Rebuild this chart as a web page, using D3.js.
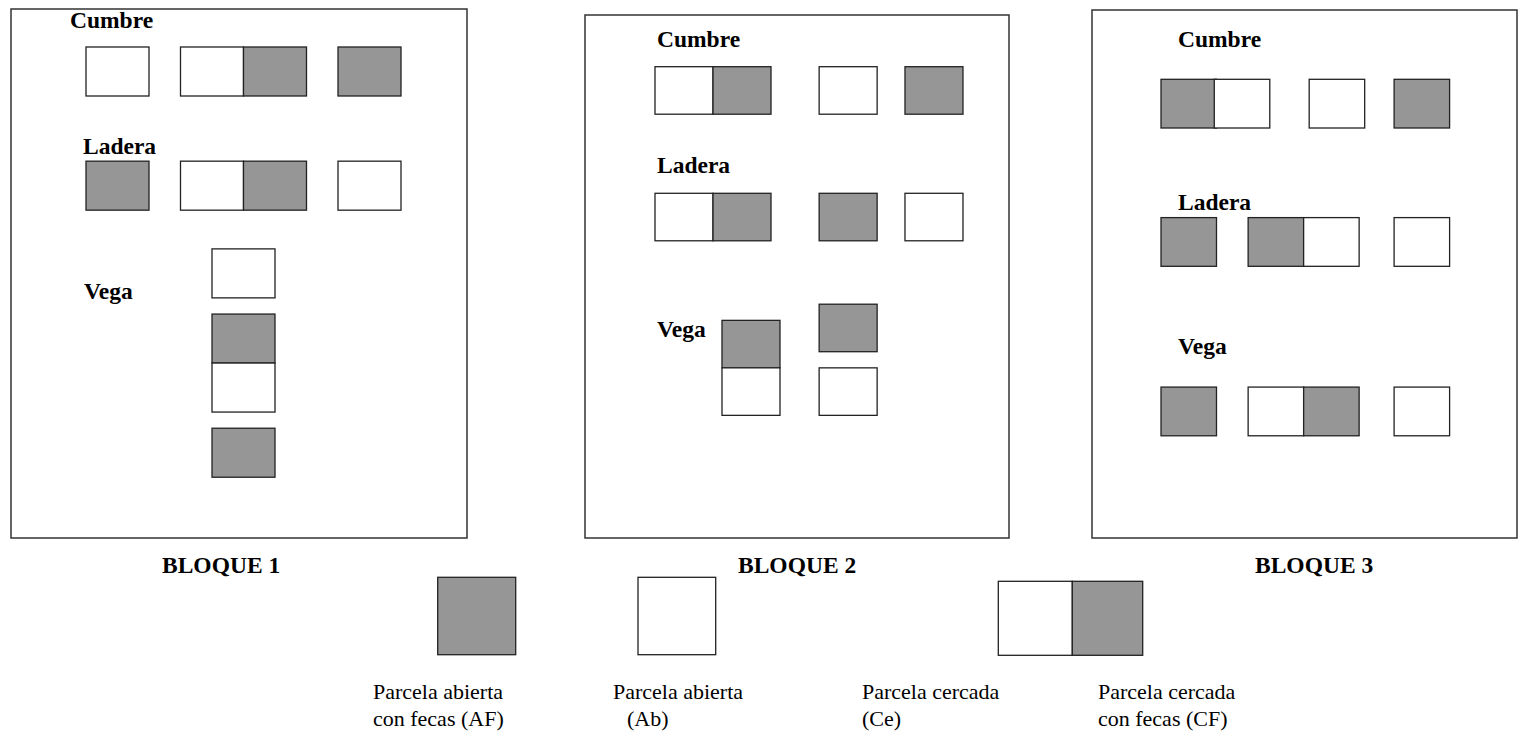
<!DOCTYPE html>
<meta charset="utf-8">
<style>
body { margin: 0; background: #fff; }
text { font-family: "Liberation Serif", "Times New Roman", serif; fill: #000; }
.zone, .block { font-size: 23.5px; font-weight: bold; }
.leg { font-size: 22px; }
.frame { fill: none; stroke: #333; stroke-width: 1.5px; }
.cell { stroke: #222; stroke-width: 1.3px; }
</style>
<svg width="1519" height="741"></svg>
<script src="https://cdn.jsdelivr.net/npm/d3@7"></script>
<script>

var blocks = ["BLOQUE 1", "BLOQUE 2", "BLOQUE 3"];
var zones = ["Cumbre", "Ladera", "Vega"];

// treatments: AF open with feces, Ab open, Ce fenced, CF fenced with feces
var treatments = ["AF", "Ab", "Ce", "CF"];
var legendLines = [
  ["Parcela abierta", "con fecas (AF)"],
  ["Parcela abierta", "(Ab)"],
  ["Parcela cercada", "(Ce)"],
  ["Parcela cercada", "con fecas (CF)"]
];

// plots per block: [zone, column, row, treatment] in grid cells
var plots1 = [
  ["Cumbre", 0, 0, "Ab"], ["Cumbre", 1.5, 0, "Ce"], ["Cumbre", 2.5, 0, "CF"], ["Cumbre", 4, 0, "AF"],
  ["Ladera", 0, 2.33, "AF"], ["Ladera", 1.5, 2.33, "Ce"], ["Ladera", 2.5, 2.33, "CF"], ["Ladera", 4, 2.33, "Ab"],
  ["Vega", 2, 4.12, "Ab"], ["Vega", 2, 5.45, "AF"], ["Vega", 2, 6.45, "Ce"], ["Vega", 2, 7.78, "AF"]
];
var plots2 = [
  ["Cumbre", 0, 0, "Ce"], ["Cumbre", 1, 0, "CF"], ["Cumbre", 2.83, 0, "Ab"], ["Cumbre", 4.31, 0, "AF"],
  ["Ladera", 0, 2.665, "Ce"], ["Ladera", 1, 2.665, "CF"], ["Ladera", 2.83, 2.665, "AF"], ["Ladera", 4.31, 2.665, "Ab"],
  ["Vega", 1.155, 5.34, "AF"], ["Vega", 1.155, 6.34, "Ab"], ["Vega", 2.83, 5.0, "AF"], ["Vega", 2.83, 6.34, "Ab"]
];
var plots3 = [
  ["Cumbre", 0, 0, "CF"], ["Cumbre", 0.96, 0, "Ce"], ["Cumbre", 2.67, 0, "Ab"], ["Cumbre", 4.2, 0, "AF"],
  ["Ladera", 0, 2.84, "AF"], ["Ladera", 1.57, 2.84, "CF"], ["Ladera", 2.57, 2.84, "Ce"], ["Ladera", 4.2, 2.84, "Ab"],
  ["Vega", 0, 6.32, "AF"], ["Vega", 1.57, 6.32, "Ce"], ["Vega", 2.57, 6.32, "CF"], ["Vega", 4.2, 6.32, "Ab"]
];
var plots = [plots1, plots2, plots3];

// layout of each block: frame, grid origin and cell size, labels
var layout = [
  {frame: [11, 9, 467, 538], x0: 86, y0: 47, w: 63, h: 49,
   zoneLab: [[70, 28], [83, 154], [84, 299]], blockLab: [162, 573]},
  {frame: [585, 15, 1009, 538], x0: 655, y0: 66.7, w: 58, h: 47.5,
   zoneLab: [[657, 47], [657, 173], [657, 337]], blockLab: [738, 573]},
  {frame: [1092, 10, 1517, 538], x0: 1161, y0: 79.3, w: 55.5, h: 48.7,
   zoneLab: [[1178, 47], [1178, 210], [1178, 354]], blockLab: [1255, 573]}
];

var color = d3.scaleOrdinal()
    .domain(treatments)
    .range(["#969696", "#ffffff", "#ffffff", "#969696"]);

var svg = d3.select("svg");

blocks.forEach(function(name, i) {
  var L = layout[i];
  var x = d3.scaleLinear().domain([0, 1]).range([L.x0, L.x0 + L.w]);
  var y = d3.scaleLinear().domain([0, 1]).range([L.y0, L.y0 + L.h]);
  var g = svg.append("g");

  g.append("rect")
      .attr("class", "frame")
      .attr("x", L.frame[0]).attr("y", L.frame[1])
      .attr("width", L.frame[2] - L.frame[0])
      .attr("height", L.frame[3] - L.frame[1]);

  g.selectAll(".zone")
    .data(zones)
    .enter().append("text")
      .attr("class", "zone")
      .attr("x", function(d, j) { return L.zoneLab[j][0]; })
      .attr("y", function(d, j) { return L.zoneLab[j][1]; })
      .text(function(d) { return d; });

  g.selectAll(".cell")
    .data(plots[i])
    .enter().append("rect")
      .attr("class", "cell")
      .attr("x", function(d) { return x(d[1]); })
      .attr("y", function(d) { return y(d[2]); })
      .attr("width", x(1) - x(0))
      .attr("height", y(1) - y(0))
      .style("fill", function(d) { return color(d[3]); });

  g.append("text")
      .attr("class", "block")
      .attr("x", L.blockLab[0])
      .attr("y", L.blockLab[1])
      .text(name);
});

// legend
var legSwatch = [
  [{x: 437.7, y: 577.3, w: 78, h: 77.4, t: "AF"}],
  [{x: 638, y: 577.3, w: 77.7, h: 77.4, t: "Ab"}],
  [{x: 998.3, y: 581.3, w: 74, h: 74, t: "Ce"}, {x: 1072.3, y: 581.3, w: 70.4, h: 74, t: "CF"}]
];
var legText = [{x: 373, dx2: 0}, {x: 613, dx2: 14}, {x: 862, dx2: 0}, {x: 1098, dx2: 0}];

var leg = svg.append("g");
leg.selectAll(".cell")
  .data(d3.merge(legSwatch))
  .enter().append("rect")
    .attr("class", "cell")
    .attr("x", function(d) { return d.x; })
    .attr("y", function(d) { return d.y; })
    .attr("width", function(d) { return d.w; })
    .attr("height", function(d) { return d.h; })
    .style("fill", function(d) { return color(d.t); });

var lt = leg.selectAll(".leg")
  .data(legendLines)
  .enter().append("text")
    .attr("class", "leg");
lt.append("tspan")
    .attr("x", function(d, i) { return legText[i].x; })
    .attr("y", 699)
    .text(function(d) { return d[0]; });
lt.append("tspan")
    .attr("x", function(d, i) { return legText[i].x + legText[i].dx2; })
    .attr("y", 726)
    .text(function(d) { return d[1]; });

</script>
